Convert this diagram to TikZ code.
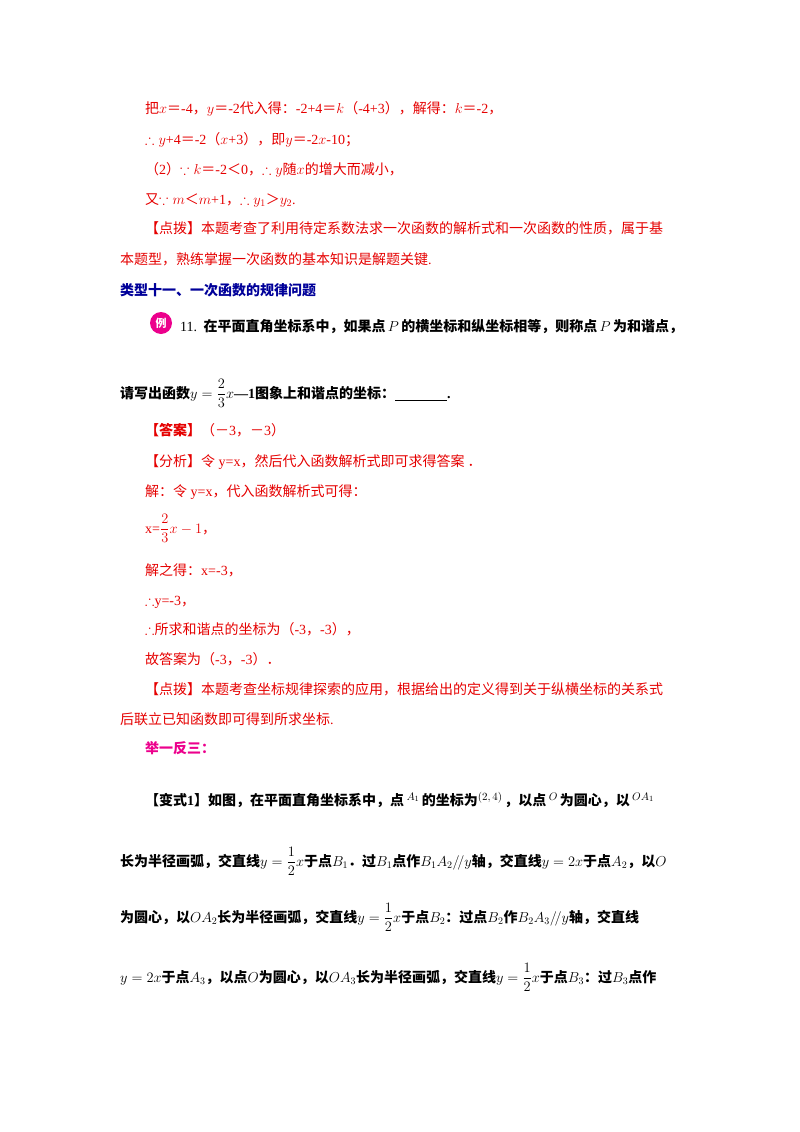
\documentclass[tikz,border=0pt]{standalone}
\usepackage{amssymb}
\usepackage[no-math]{fontspec}
\setmainfont{Noto Sans CJK SC}
\newfontfamily\lrf{Liberation Serif}
\newcommand\lr[1]{{\lrf #1}}
\newcommand\fr[2]{{\displaystyle\frac{#1}{#2}}}
\newcommand\up[1]{\raisebox{5pt}{\fontsize{11}{12}\selectfont$#1$}}
\begin{document}
\begin{tikzpicture}[x=1pt,y=-1pt,
  t/.style={anchor=base west,inner sep=0pt,font=\fontsize{14}{16}\selectfont},
  r/.style={t,text=red!90!black},
  b/.style={t,text=black,font=\fontsize{14}{16}\selectfont\bfseries},
  h/.style={t,text=blue!60!black,font=\fontsize{14}{16}\selectfont\bfseries},
  m/.style={t,text=magenta,font=\fontsize{14}{16}\selectfont\bfseries}]
\useasboundingbox (0,0) rectangle (800,1132);
\node[r] (l1) at (145,113) {把$x$＝\lr{-4}，$y$＝\lr{-2}代入得：\lr{-2+4}＝$k$（\lr{-4+3}），解得：$k$＝\lr{-2}，};
\node[r] (l2) at (145,144) {$\therefore y$\lr{+4}＝\lr{-2}（$x$\lr{+3}），即$y$＝\lr{-2}$x$\lr{-10}；};
\node[r] (l3) at (145,174) {（\lr{2}）$\because k$＝\lr{-2}＜\lr{0}，$\therefore y$随$x$的增大而减小，};
\node[r] (l4) at (145,204) {又$\because m$＜$m$\lr{+1}，$\therefore y_1$＞$y_2$\lr{.}};
\node[r] (l5) at (145,233) {【点拨】本题考查了利用待定系数法求一次函数的解析式和一次函数的性质，属于基};
\node[r] (l6) at (120,264) {本题型，熟练掌握一次函数的基本知识是解题关键\lr{.}};
\node[h] (l7) at (120,295) {类型十一、一次函数的规律问题};
\node[circle,fill=magenta,minimum size=22pt,inner sep=0pt,text=white,font=\fontsize{11}{12}\selectfont\bfseries] (ic) at (161,323) {例};
\node[b] (l8) at (180,331) {\lr{\mdseries 11.}\ \ 在平面直角坐标系中，如果点\,$P$\,的横坐标和纵坐标相等，则称点\,$P$\,为和谐点，};
\node[b] (l9) at (120,398) {请写出函数$y=\fr{2}{3}x$\lr{—1}图象上和谐点的坐标：\underline{\hspace{52pt}}\lr{.}};
\node[r] (l10) at (145,435) {{\bfseries 【答案】}（－\lr{3}，－\lr{3}）};
\node[r] (l11) at (145,466) {【分析】令\lr{ y=x}，然后代入函数解析式即可求得答案 ．};
\node[r] (l12) at (145,496) {解：令\lr{ y=x}，代入函数解析式可得：};
\node[r] (l13) at (145,533) {\lr{x=}$\fr{2}{3}x-1$，};
\node[r] (l14) at (145,575) {解之得：\lr{x=-3}，};
\node[r] (l15) at (145,605) {$\therefore$\lr{y=-3}，};
\node[r] (l16) at (145,634) {$\therefore$所求和谐点的坐标为（\lr{-3}，\lr{-3}），};
\node[r] (l17) at (145,664) {故答案为（\lr{-3}，\lr{-3}）．};
\node[r] (l18) at (145,694) {【点拨】本题考查坐标规律探索的应用，根据给出的定义得到关于纵横坐标的关系式};
\node[r] (l19) at (120,724) {后联立已知函数即可得到所求坐标\lr{.}};
\node[m] (l20) at (145,753) {举一反三：};
\node[b] (l21) at (145,805) {【变式\lr{1}】如图，在平面直角坐标系中，点\,\up{A_1}\,的坐标为\up{(2,4)}\,，以点\,\up{O}\,为圆心，以\,\up{OA_1}};
\node[b] (l22) at (120,866) {长为半径画弧，交直线$y=\fr{1}{2}x$于点$B_1$．过$B_1$点作$B_1A_2/\!/y$轴，交直线$y=2x$于点$A_2$，以$O$};
\node[b] (l23) at (120,922) {为圆心，以$OA_2$长为半径画弧，交直线$y=\fr{1}{2}x$于点$B_2$：过点$B_2$作$B_2A_3/\!/y$轴，交直线};
\node[b] (l24) at (120,982) {$y=2x$于点$A_3$，以点$O$为圆心，以$OA_3$长为半径画弧，交直线$y=\fr{1}{2}x$于点$B_3$：过$B_3$点作};
\end{tikzpicture}
\end{document}
